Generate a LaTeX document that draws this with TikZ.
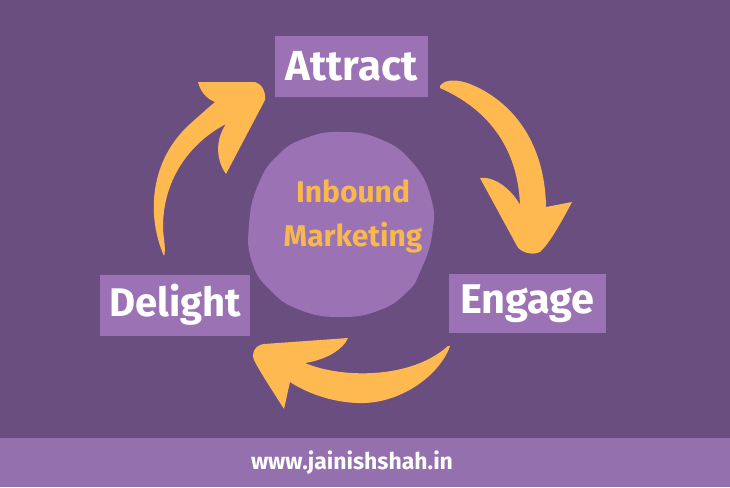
\documentclass[tikz,border=0pt]{standalone}
\usepackage{fontspec}
\setmainfont{Fira Sans}
\definecolor{bgpurple}{HTML}{6A4E7F}
\definecolor{boxpurple}{HTML}{9B72B4}
\definecolor{footpurple}{HTML}{9570AF}
\definecolor{arroworange}{HTML}{FEB950}
\definecolor{textorange}{HTML}{F7B84E}
\tikzset{
  stagebox/.style={fill=boxpurple, text=white, inner sep=0pt, anchor=center},
  bigarrow/.style={fill=arroworange, draw=none},
}
\begin{document}
\begin{tikzpicture}[x=1pt,y=-1pt]
\useasboundingbox (0,0) rectangle (730,487);
\fill[bgpurple] (0,0) rectangle (730,487);
\fill[footpurple] (0,438) rectangle (730,487);
% stage boxes
\node[stagebox, minimum width=153pt, minimum height=61pt, font=\bfseries\fontsize{42}{42}\selectfont] (attract) at (351.5,66.5) {Attract};
\node[stagebox, minimum width=157pt, minimum height=59pt, font=\bfseries\fontsize{41.5}{40}\selectfont] (engage) at (527.5,303.5) {Engage};
\node[stagebox, minimum width=150pt, minimum height=61pt, font=\bfseries\fontsize{40}{40}\selectfont] (delight) at (175,305) {Delight};
% center blob
\fill[boxpurple] plot[smooth cycle, tension=0.8] coordinates {
  (341,132) (380,139) (412,162) (431,198) (432,235) (420,272) (407,292)
  (380,310) (341,317) (300,310) (270,290) (252,262) (249,225) (258,185)
  (278,155) (306,138)};
\node[text=textorange, align=center, inner sep=0pt,
      font=\bfseries\fontsize{30}{44}\selectfont] (inbound) at (353,216)
  {Inbound\\Marketing};
% arrows
\path[bigarrow] (164,256) .. controls (146,215) and (150,160) .. (190,124)
  .. controls (200,115) and (208,108) .. (215,102)
  .. controls (205,98) and (200,90) .. (198,82)
  -- (255,82) .. controls (262,84) and (266,92) .. (265,100)
  -- (226,174) .. controls (216,160) and (215,140) .. (226,124)
  .. controls (195,140) and (162,175) .. (163,230)
  .. controls (164,240) and (166,250) .. (164,256) -- cycle;
\path[bigarrow] (440,86) .. controls (445,78) and (460,80) .. (470,84)
  .. controls (510,100) and (545,140) .. (546,207)
  -- (572,202) .. controls (560,225) and (548,245) .. (540,252)
  .. controls (532,256) and (520,252) .. (517,246)
  -- (480,178) .. controls (495,176) and (512,190) .. (520,205)
  .. controls (518,150) and (490,110) .. (440,88) -- cycle;
\path[bigarrow] (450,346) .. controls (440,375) and (400,405) .. (357,403)
  .. controls (330,402) and (305,392) .. (290,382)
  -- (284,409) .. controls (272,390) and (260,372) .. (254,360)
  .. controls (251,352) and (256,345) .. (264,344)
  -- (348,338) .. controls (343,350) and (325,360) .. (305,363)
  .. controls (340,378) and (410,380) .. (448,346) -- cycle;
% footer
\node[text=white, font=\bfseries\fontsize{23}{23}\selectfont, inner sep=0pt] (url) at (352,463) {www.jainishshah.in};
\end{tikzpicture}
\end{document}
